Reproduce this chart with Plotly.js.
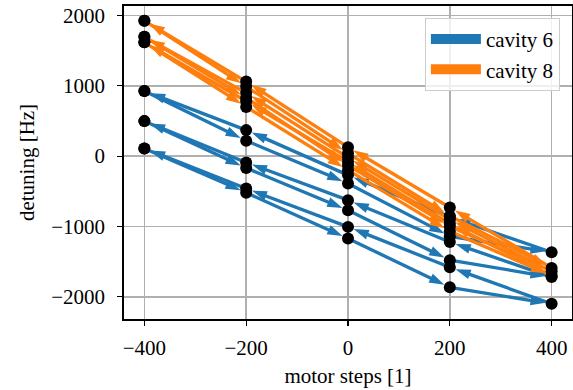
<!DOCTYPE html>
<html><head><meta charset="utf-8">
<script src="https://cdn.plot.ly/plotly-3.0.1.min.js"></script>
<style>html,body{margin:0;padding:0;background:#fff}#chart{width:573px;height:390px}</style>
</head><body><div id="chart"></div>
<script>
// measurement order of one hysteresis loop (motor steps)
const motorSteps = [-400, -200, 0, 200, 400, 200, 0, -200, -400];
// detuning [Hz] for each loop
const cav6Run1 = [925, 220, -389, -1140, -1367, -867, -270, 370, 925];
const cav6Run2 = [498, -170, -769, -1480, -1720, -1220, -626, -90, 498];
const cav6Run3 = [110, -520, -1172, -1865, -2100, -1580, -1006, -460, 110];
const cav8Run1 = [1926, 990, 40, -850, -1590, -730, 128, 1060, 1926];
const cav8Run2 = [1698, 830, -130, -1000, -1640, -900, -20, 900, 1698];
const cav8Run3 = [1619, 700, -200, -1070, -1700, -960, -80, 780, 1619];
const seriesNames = ['cavity 6', 'cavity 8'];
const seriesColors = ['#1f77b4', '#ff7f0e'];
const xTicks = [-400, -200, 0, 200, 400];
const yTicks = [-2000, -1000, 0, 1000, 2000];

const runs = [[cav6Run1, cav6Run2, cav6Run3], [cav8Run1, cav8Run2, cav8Run3]];
const FONT = 'Liberation Serif, Times New Roman, serif';
const HEAD = 16;

function arrowTrace(runList, color) {
  const x = [], y = [], s = [];
  runList.forEach(run => {
    for (let i = 0; i < run.length - 1; i++) {
      x.push(motorSteps[i], motorSteps[i + 1], null);
      y.push(run[i], run[i + 1], null);
      s.push(0, HEAD, 0);
    }
  });
  return {
    type: 'scatter', mode: 'lines+markers', x: x, y: y,
    line: {color: color, width: 3.3},
    marker: {symbol: 'arrow', size: s, color: color, opacity: 1, angleref: 'previous', standoff: 6, line: {width: 0}},
    showlegend: false, hoverinfo: 'skip', connectgaps: false
  };
}

const traces = [];
runs.forEach((rl, k) => traces.push(arrowTrace(rl, seriesColors[k])));
// dots
const dx = [], dy = [];
runs.forEach(rl => rl.forEach(run => run.forEach((v, i) => { dx.push(motorSteps[i]); dy.push(v); })));
traces.push({type: 'scatter', mode: 'markers', x: dx, y: dy,
  marker: {color: '#000000', size: 12, opacity: 1}, showlegend: false, hoverinfo: 'skip'});
// legend entries
seriesNames.forEach((n, k) => traces.push({
  type: 'scatter', mode: 'lines', x: [null], y: [null], name: n,
  legendgroup: 'g' + k, line: {color: seriesColors[k], width: 10}
}));

const axisCommon = {
  showline: true, mirror: true, linecolor: '#000', linewidth: 1.8,
  ticks: 'outside', ticklen: 5, tickwidth: 1.2, tickcolor: '#000',
  showgrid: true, gridcolor: '#b0b0b0', gridwidth: 1.6, zeroline: false,
  tickfont: {family: FONT, size: 21, color: '#000'}
};

const layout = {
  width: 573, height: 390,
  margin: {l: 124, r: 1, t: 6, b: 71},
  paper_bgcolor: '#fff', plot_bgcolor: '#fff',
  font: {family: FONT, size: 21, color: '#000'},
  xaxis: Object.assign({}, axisCommon, {
    range: [-440, 440], tickvals: xTicks, ticklabelstandoff: 4,
    title: {text: 'motor steps [1]', font: {family: FONT, size: 21}, standoff: 9}
  }),
  yaxis: Object.assign({}, axisCommon, {
    range: [-2316, 2135], tickvals: yTicks, ticklabelstandoff: 8,
    title: {text: 'detuning [Hz]', font: {family: FONT, size: 21}, standoff: 11}
  }),
  legend: {
    x: 0.973, xanchor: 'right', y: 0.962, yanchor: 'top',
    bgcolor: 'rgba(255,255,255,0.8)', bordercolor: '#cccccc', borderwidth: 1,
    font: {family: FONT, size: 21, color: '#000'}, itemwidth: 50,
    tracegroupgap: 0, traceorder: 'grouped'
  },
  showlegend: true
};

Plotly.newPlot('chart', traces, layout, {displayModeBar: false, staticPlot: true});
</script>
</body></html>
